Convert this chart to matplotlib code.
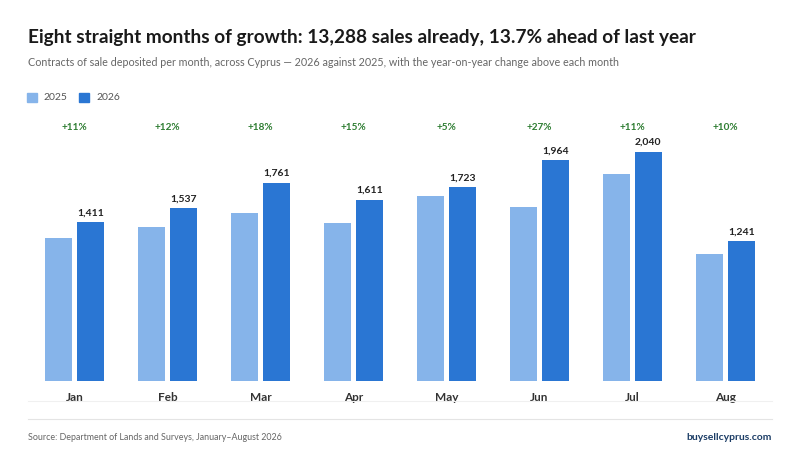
import matplotlib
matplotlib.use("Agg")
import matplotlib.pyplot as plt
import matplotlib.transforms as mtransforms
import numpy as np

months = ["Jan", "Feb", "Mar", "Apr", "May", "Jun", "Jul", "Aug"]
sales_2025 = [1271, 1372, 1492, 1401, 1641, 1546, 1838, 1128]
sales_2026 = [1411, 1537, 1761, 1611, 1723, 1964, 2040, 1241]
yoy_labels = ["+11%", "+12%", "+18%", "+15%", "+5%", "+27%", "+11%", "+10%"]

c25 = "#86b4ea"
c26 = "#2a76d3"
green = "#2e7d32"
W, H = 800, 462

plt.rcParams["font.family"] = ["Lato", "DejaVu Sans"]

fig = plt.figure(figsize=(W / 100, H / 100), dpi=100)
fig.patch.set_facecolor("white")

# axes placed in pixel terms: left 28, right 772, baseline 380.7, top 140
ax = fig.add_axes([28 / W, (H - 380.7) / H, 744 / W, 240.7 / H])
x = np.arange(len(months))
ax.bar(x - 0.17, sales_2025, width=0.29, color=c25, zorder=2)
bars = ax.bar(x + 0.17, sales_2026, width=0.29, color=c26, zorder=2)
ax.set_xlim(-0.5, len(months) - 0.5)
ax.set_ylim(0, 2143)

for b, v in zip(bars, sales_2026):
    ax.annotate(f"{v:,}", (b.get_x() + b.get_width() / 2, v),
                xytext=(0, 3.5), textcoords="offset points",
                ha="center", va="bottom", fontsize=7.5, fontweight="bold",
                color="#222222")

trans = mtransforms.blended_transform_factory(ax.transData, fig.transFigure)
for i, lab in enumerate(yoy_labels):
    ax.text(i, 1 - 128 / H, lab, transform=trans, ha="center", va="center",
            fontsize=7.2, fontweight="bold", color=green)

ax.set_xticks(x)
ax.set_xticklabels(months, fontsize=8.5, fontweight="bold", color="#333333")
ax.tick_params(axis="x", length=0, pad=8)
ax.set_yticks([])
for s in ax.spines.values():
    s.set_visible(False)

# separator lines
fig.add_artist(plt.Line2D([28 / W, 772 / W], [1 - 400.7 / H] * 2,
                          color="#f0f0f0", lw=0.8))
fig.add_artist(plt.Line2D([28 / W, 772 / W], [1 - 419 / H] * 2,
                          color="#e4e4e4", lw=0.8))

# title block
fig.text(28 / W, 1 - 37 / H, "Eight straight months of growth: 13,288 sales already, 13.7% ahead of last year",
         fontsize=13.7, fontweight="bold", color="#1a1a1a", va="center")
fig.text(28 / W, 1 - 62 / H, "Contracts of sale deposited per month, across Cyprus \u2014 2026 against 2025, "
         "with the year-on-year change above each month",
         fontsize=7.75, color="#666666", va="center")

# legend
for lx, tx, col, lab in [(27, 43, c25, "2025"), (79, 96, c26, "2026")]:
    fig.patches.append(plt.Rectangle((lx / W, 1 - 102 / H), 10 / W, 9 / H,
                                     transform=fig.transFigure, color=col,
                                     figure=fig))
    fig.text(tx / W, 1 - 97.5 / H, lab, fontsize=7.5, color="#555555", va="center")

# footer
fig.text(28 / W, 1 - 437 / H, "Source: Department of Lands and Surveys, January\u2013August 2026",
         fontsize=6.4, color="#666666", va="center")
fig.text(772 / W, 1 - 437 / H, "buysellcyprus.com", fontsize=7.5,
         fontweight="bold", color="#1c3d66", va="center", ha="right")

fig.savefig("out.png", dpi=100)
